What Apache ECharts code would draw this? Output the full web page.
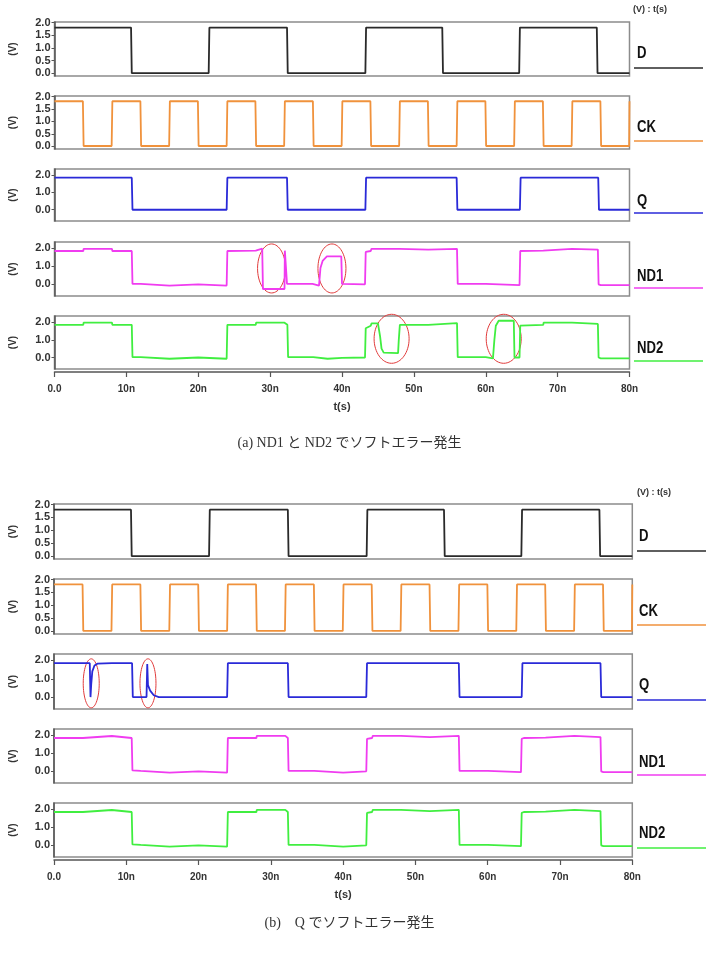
<!DOCTYPE html>
<html>
<head>
<meta charset="utf-8">
<script src="https://cdn.jsdelivr.net/npm/echarts@6/dist/echarts.min.js"></script>
<style>
  html, body { margin: 0; padding: 0; background: #fff; }
  #chart { width: 708px; height: 953px; }
</style>
</head>
<body>
<div id="chart"></div>
<script>
// signal names, top to bottom
const signals = ['D', 'CK', 'Q', 'ND1', 'ND2'];
const colors  = ['#2a2a2a', '#f0923c', '#2a2ad8', '#f03cf0', '#40ee40'];

const xTicks = [0, 10, 20, 30, 40, 50, 60, 70, 80];
const yTicksWide = [0, 0.5, 1.0, 1.5, 2.0];
const yTicksNarrow = [0, 1.0, 2.0];

// edge times (ns) of the plain square waves, which start high
const dEdges  = [10.7, 21.5, 32.4, 43.3, 54.0, 64.7, 75.5];
const ckEdges = [4, 8, 12, 16, 20, 24, 28, 32, 36, 40, 44, 48, 52, 56, 60, 64, 68, 72, 76, 80];
const qEdgesA = [10.8, 24.0, 32.4, 43.3, 56.0, 64.8, 75.7];

// (a) ND1 / ND2 with soft errors, [t(ns), V]
const nd1A = [[0,1.85],[4,1.85],[4.05,1.97],[8,1.97],[8.05,1.85],[10.75,1.85],[10.85,0.02],[12,0.02],[12.05,-0.07],
  [16,-0.07],[16.05,0],[20,0],[20.05,-0.07],[23.95,-0.07],[24.05,1.85],[28,1.87],[28.05,1.98],[28.9,1.98],[29.0,-0.26],
  [32.0,-0.26],[32.05,1.87],[32.3,1.87],[32.35,0.02],[35.9,0.02],[35.95,-0.07],[36.8,-0.07],[37.0,0.9],[37.3,1.3],
  [37.9,1.55],[39.9,1.55],[40.0,0.02],[43.2,0],[43.3,1.8],[44.0,1.85],[44.1,1.97],[48,1.97],[48.05,1.93],[52,1.93],
  [52.05,1.97],[56.0,1.97],[56.1,0.02],[60,0.02],[60.05,-0.05],[64.7,-0.05],[64.8,1.85],[68,1.87],[68.05,1.97],
  [72,1.97],[72.05,1.93],[75.6,1.93],[75.7,0.0],[76,-0.05],[80,-0.05]];
const nd2A = [[0,1.85],[4,1.85],[4.05,1.97],[8,1.97],[8.05,1.85],[10.75,1.85],[10.85,0.02],[12,0.02],[12.05,-0.07],
  [16,-0.07],[16.05,0],[20,0],[20.05,-0.07],[23.95,-0.07],[24.05,1.85],[28,1.85],[28.05,1.97],[32.0,1.97],[32.1,1.9],
  [32.4,1.85],[32.5,0.02],[36,0.02],[36.05,-0.07],[38,-0.07],[38.05,-0.02],[40,-0.02],[40.05,0],[43.2,0],[43.3,1.66],
  [44.0,1.8],[44.1,1.93],[45.0,1.93],[45.3,1.2],[45.5,0.5],[45.8,0.28],[47.8,0.25],[47.9,1.0],[48.05,1.85],[52,1.85],
  [52.05,1.95],[56.0,1.95],[56.1,0.02],[60,0.02],[60.05,-0.05],[61.0,-0.05],[61.2,1.0],[61.4,1.8],[61.8,2.08],
  [63.9,2.08],[64.0,0.0],[64.7,0.0],[64.8,1.81],[68,1.85],[68.05,1.97],[72,1.97],[72.05,1.9],[75.6,1.9],[75.7,0.0],
  [76,-0.05],[80,-0.05]];

// (b) Q with soft errors, ND1 / ND2 clean
const qB = [[0,1.85],[4.95,1.85],[5.0,0.9],[5.05,0.0],[5.15,0.7],[5.3,1.4],[5.6,1.72],[6.0,1.82],[8,1.85],[10.8,1.85],
  [10.9,0],[12.8,0],[12.9,1.8],[13.0,0.65],[13.3,0.35],[13.8,0.1],[14.5,0],[23.95,0],[24.05,1.85],[32.35,1.85],
  [32.45,0],[43.2,0],[43.3,1.85],[56.0,1.85],[56.1,0],[64.7,0],[64.8,1.85],[75.6,1.85],[75.7,0],[80,0]];
const ndB = [[0,1.85],[4,1.85],[4.05,1.96],[8,1.96],[8.05,1.85],[10.75,1.85],[10.85,0.05],[11,0.02],[12,0.02],
  [12.05,-0.07],[16,-0.07],[16.05,0],[20,0],[20.05,-0.07],[23.95,-0.07],[24.05,1.85],[28,1.85],[28.05,1.97],[32.0,1.97],
  [32.1,1.9],[32.35,1.85],[32.45,0.02],[36,0.02],[36.05,-0.07],[40,-0.07],[40.05,0],[43.2,0],[43.3,1.8],[44.0,1.85],
  [44.1,1.97],[48,1.97],[48.05,1.9],[52,1.9],[52.05,1.97],[56.0,1.97],[56.1,0.02],[60,0.02],[60.05,-0.05],[64.6,-0.05],
  [64.7,1.8],[65,1.85],[68,1.87],[68.05,1.97],[72,1.97],[72.05,1.9],[75.6,1.9],[75.7,0.0],[76,-0.05],[80,-0.05]];

// red circles round the errors: [panel, t(ns), V]
const ringsA = [[3, 30.2, 0.88], [3, 38.6, 0.88], [4, 46.9, 1.06], [4, 62.5, 1.06]];
const ringsB = [[2, 5.15, 0.75], [2, 13.0, 0.75]];

const captionA = '(a) ND1 と ND2 でソフトエラー発生';
const captionB = '(b)\u3000Q でソフトエラー発生';

function square(edges, hi, lo) {
  const pts = [[0, hi]];
  let v = hi;
  edges.forEach(t => {
    const nv = v === hi ? lo : hi;
    pts.push([t - 0.05, v], [t + 0.05, nv]);
    v = nv;
  });
  if (pts[pts.length - 1][0] < 80) pts.push([80, v]);
  return pts;
}

const dWave  = square(dEdges, 1.8, 0.0);
const ckWave = square(ckEdges.slice(0, -1), 1.81, 0.01);
ckWave.pop();
ckWave.push([79.95, 0.01], [80, 1.81]);
const qWaveA = square(qEdgesA, 1.85, 0.0);

const figures = [
  { left: 54.5, width: 575, rows: [[22, 54], [96, 53], [169, 52], [242, 54], [316, 53]],
    waves: [dWave, ckWave, qWaveA, nd1A, nd2A], rings: ringsA,
    legendX: 634, legendTextX: 637, legend: [[54, 68], [128, 141], [202, 213], [277, 288], [349, 361]],
    unitsY: 10, unitsX: 633, captionY: 443, caption: captionA },
  { left: 47.3, width: 585, rows: [[504, 55], [579, 55], [654, 55], [729, 54], [803, 54]],
    waves: [dWave, ckWave, qB, ndB, ndB], rings: ringsB,
    legendX: 637, legendTextX: 639, legend: [[537, 551], [612, 625], [686, 700], [763, 775], [834, 848]],
    unitsY: 493, unitsX: 637, captionY: 923, caption: captionB }
];

const labelFont = { color: '#333', fontSize: 10, fontWeight: 'bold', fontFamily: 'Arial, "Liberation Sans", sans-serif' };

const grid = [], xAxis = [], yAxis = [], series = [];
figures.forEach((fig, f) => {
  fig.rows.forEach((row, p) => {
    const g = f * 5 + p;
    const wide = p < 2;
    grid.push({ left: fig.left, top: row[0], width: fig.width, height: row[1],
      show: true, borderColor: '#8c8c8c', borderWidth: 1.5 });
    const bottom = p === 4;
    xAxis.push({
      type: 'value', gridIndex: g, min: 0, max: 80, interval: 10,
      show: bottom, offset: 3,
      name: 't(s)', nameLocation: 'middle', nameGap: 29,
      nameTextStyle: Object.assign({}, labelFont, { fontSize: 11 }),
      axisLine: { onZero: false, lineStyle: { color: '#555', width: 1.5 } },
      axisTick: { length: 5, lineStyle: { color: '#555', width: 1.2 } },
      axisLabel: Object.assign({}, labelFont, { margin: 12,
        formatter: v => v === 0 ? '0.0' : v + 'n' }),
      splitLine: { show: false }
    });
    const ticks = wide ? yTicksWide : yTicksNarrow;
    yAxis.push({
      type: 'value', gridIndex: g,
      min: wide ? -0.11 : -0.65, max: wide ? 2.02 : 2.35,
      name: '(V)', nameLocation: 'middle', nameGap: 36, nameRotate: 90,
      nameTextStyle: Object.assign({}, labelFont, { fontSize: 10 }),
      axisLine: { show: true, onZero: false, lineStyle: { color: '#555', width: 1.5 } },
      axisTick: { show: true, length: 3, customValues: ticks, lineStyle: { color: '#555' } },
      axisLabel: Object.assign({}, labelFont, { fontSize: 11, margin: 4, customValues: ticks,
        formatter: v => v.toFixed(1) }),
      splitLine: { show: false }
    });
    series.push({
      type: 'line', name: signals[p], xAxisIndex: g, yAxisIndex: g,
      data: fig.waves[p], showSymbol: false, symbol: 'none',
      lineStyle: { color: colors[p], width: 1.8 }, itemStyle: { color: colors[p] },
      animation: false, silent: true
    });
  });
});

const chart = echarts.init(document.getElementById('chart'), null, { renderer: 'canvas' });
chart.setOption({ animation: false, grid, xAxis, yAxis, series });

const graphic = [];
figures.forEach((fig, f) => {
  fig.legend.forEach((lg, p) => {
    graphic.push({ type: 'text', x: fig.legendTextX, y: lg[0], scaleX: 0.82,
      style: { text: signals[p], fill: '#111', fontSize: 16, fontWeight: 'bold', verticalAlign: 'middle',
        fontFamily: '"Liberation Sans Narrow", "Arial Narrow", Arial, sans-serif' } });
    graphic.push({ type: 'line', shape: { x1: fig.legendX, y1: lg[1], x2: fig.legendX + 69, y2: lg[1] },
      style: { stroke: colors[p], lineWidth: 1.6 } });
  });
  graphic.push({ type: 'text', x: fig.unitsX, y: fig.unitsY,
    style: { text: '(V) : t(s)', fill: '#333', fontSize: 9, fontWeight: 'bold', verticalAlign: 'middle',
      fontFamily: 'Arial, "Liberation Sans", sans-serif' } });
  graphic.push({ type: 'text', x: 349.5, y: fig.captionY,
    style: { text: fig.caption, fill: '#333', fontSize: 14, align: 'center', verticalAlign: 'middle',
      fontFamily: '"Liberation Serif", "Noto Sans CJK JP", serif' } });
  fig.rings.forEach(r => {
    const g = f * 5 + r[0];
    const c = chart.convertToPixel({ xAxisIndex: g, yAxisIndex: g }, [r[1], r[2]]);
    const rx = f === 0 ? (r[0] === 3 ? 14 : 17.5) : 8;
    graphic.push({ type: 'ellipse', shape: { cx: c[0], cy: c[1], rx: rx, ry: 24.5 },
      style: { fill: 'none', stroke: '#e03a3a', lineWidth: 1 } });
  });
});
chart.setOption({ graphic });
</script>
</body>
</html>
